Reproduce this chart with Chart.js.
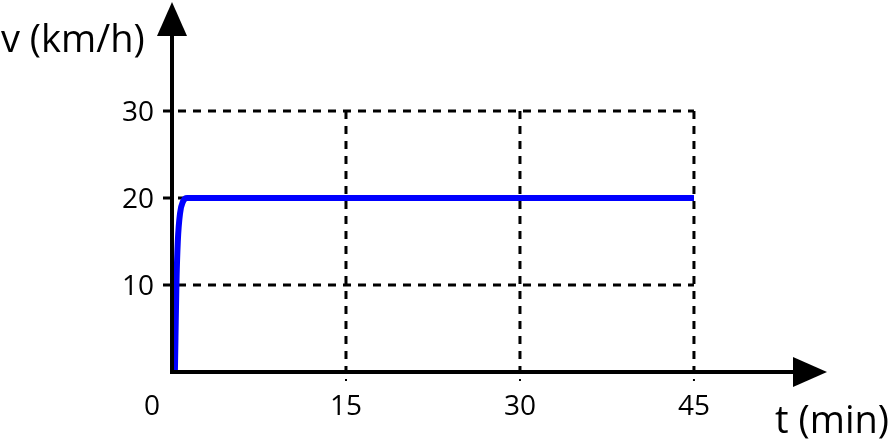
<!DOCTYPE html>
<html>
<head>
<meta charset="utf-8">
<script src="https://cdn.jsdelivr.net/npm/chart.js@4/dist/chart.umd.min.js"></script>
<style>
  body { margin: 0; background: #fff; }
  canvas { display: block; }
</style>
</head>
<body>
<canvas id="speedChart" width="890" height="447"></canvas>
<script>
// Speed over time
const timeMin = [0.25, 0.3, 0.38, 0.5, 0.7, 0.95, 1.3, 45];
const speedKmh = [0, 4, 10, 15, 18.3, 19.6, 20, 20];

const xTicks = [0, 15, 30, 45];
const yTicks = [10, 20, 30];
const xTitle = "t (min)";
const yTitle = "v (km/h)";

const FONT = "'Open Sans', sans-serif";

// axes with arrows, dashed grid and labels
const axesPlugin = {
  id: "axesPlugin",
  beforeDatasetsDraw(chart) {
    const ctx = chart.ctx;
    const xs = chart.scales.x;
    const ys = chart.scales.y;
    const x0 = xs.getPixelForValue(0);
    const y0 = ys.getPixelForValue(0);
    const xEnd = xs.getPixelForValue(xTicks[xTicks.length - 1]);
    const yEnd = ys.getPixelForValue(yTicks[yTicks.length - 1]);

    ctx.save();
    ctx.strokeStyle = "#000";
    ctx.lineWidth = 3;
    ctx.setLineDash([8, 7]);

    // horizontal dashed lines
    yTicks.forEach(v => {
      const y = ys.getPixelForValue(v);
      ctx.beginPath();
      ctx.moveTo(x0 - 9, y);
      ctx.lineTo(xEnd, y);
      ctx.stroke();
    });

    // vertical dashed lines
    xTicks.slice(1).forEach(v => {
      const x = xs.getPixelForValue(v);
      ctx.beginPath();
      ctx.moveTo(x, yEnd);
      ctx.lineTo(x, y0);
      ctx.stroke();
    });
    ctx.setLineDash([]);

    // small marks under x axis
    ctx.lineWidth = 2;
    xTicks.slice(1).forEach(v => {
      const x = xs.getPixelForValue(v);
      ctx.beginPath();
      ctx.moveTo(x, y0 + 7);
      ctx.lineTo(x, y0 + 9);
      ctx.stroke();
    });
    ctx.restore();
  },
  afterDatasetsDraw(chart) {
    const ctx = chart.ctx;
    const area = chart.chartArea;
    const xs = chart.scales.x;
    const ys = chart.scales.y;
    const x0 = xs.getPixelForValue(0);
    const y0 = ys.getPixelForValue(0);

    ctx.save();
    ctx.strokeStyle = "#000";
    ctx.fillStyle = "#000";
    ctx.lineWidth = 4;

    // y axis
    ctx.beginPath();
    ctx.moveTo(x0, y0 + 2);
    ctx.lineTo(x0, area.top + 20);
    ctx.stroke();
    ctx.beginPath();
    ctx.moveTo(x0, area.top);
    ctx.lineTo(x0 - 15, area.top + 34);
    ctx.lineTo(x0 + 15, area.top + 34);
    ctx.closePath();
    ctx.fill();

    // x axis
    ctx.beginPath();
    ctx.moveTo(x0 - 2, y0);
    ctx.lineTo(area.right - 20, y0);
    ctx.stroke();
    ctx.beginPath();
    ctx.moveTo(area.right, y0);
    ctx.lineTo(area.right - 34, y0 - 15);
    ctx.lineTo(area.right - 34, y0 + 15);
    ctx.closePath();
    ctx.fill();

    // tick labels
    ctx.font = "28px " + FONT;
    ctx.textBaseline = "alphabetic";
    ctx.textAlign = "right";
    yTicks.forEach(v => {
      const y = ys.getPixelForValue(v);
      ctx.fillText(String(v), x0 - 18, y + 10);
    });
    ctx.textAlign = "center";
    xTicks.forEach(v => {
      let x = xs.getPixelForValue(v);
      if (v === 0) x -= 20;
      ctx.fillText(String(v), x, y0 + 43);
    });

    // axis titles
    ctx.font = "38px " + FONT;
    ctx.textAlign = "left";
    ctx.fillText(yTitle, 1, 52);
    ctx.textAlign = "right";
    ctx.fillText(xTitle, 889, 433);
    ctx.restore();
  }
};

const chart = new Chart(document.getElementById("speedChart"), {
  type: "line",
  data: {
    datasets: [{
      data: timeMin.map((t, i) => ({ x: t, y: speedKmh[i] })),
      borderColor: "#0000ff",
      borderWidth: 6,
      pointRadius: 0,
      cubicInterpolationMode: "monotone",
      fill: false
    }]
  },
  options: {
    responsive: false,
    animation: false,
    layout: { padding: { left: 172, right: 63, top: 2, bottom: 75 } },
    plugins: { legend: { display: false }, tooltip: { enabled: false } },
    scales: {
      x: { type: "linear", min: 0, max: 56.47, display: false },
      y: { type: "linear", min: 0, max: 42.53, display: false }
    }
  },
  plugins: [axesPlugin]
});
</script>
</body>
</html>
